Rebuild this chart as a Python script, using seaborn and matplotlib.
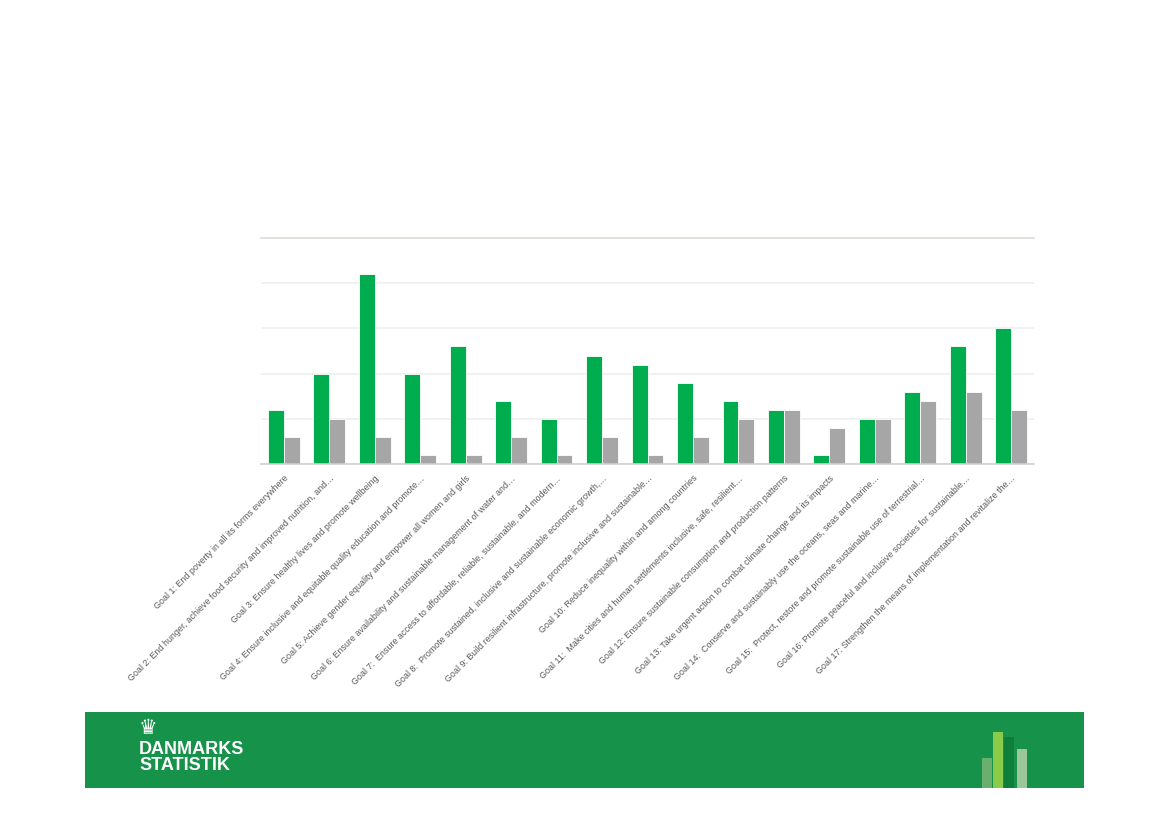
import matplotlib
matplotlib.use("Agg")
import matplotlib.pyplot as plt
import seaborn as sns
import pandas as pd
from matplotlib.patches import Rectangle

goals = [
    "Goal 1: End poverty in all its forms everywhere",
    "Goal 2: End hunger, achieve food security and improved nutrition, and\u2026",
    "Goal 3: Ensure healthy lives and promote wellbeing",
    "Goal 4: Ensure inclusive and equitable quality education and promote\u2026",
    "Goal 5: Achieve gender equality and empower all women and girls",
    "Goal 6: Ensure availability and sustainable management of water and\u2026",
    "Goal 7:  Ensure access to affordable, reliable, sustainable, and modern\u2026",
    "Goal 8:  Promote sustained, inclusive and sustainable economic growth,\u2026",
    "Goal 9: Build resilient infrastructure, promote inclusive and sustainable\u2026",
    "Goal 10: Reduce inequality within and among countries",
    "Goal 11:  Make cities and human settlements inclusive, safe, resilient\u2026",
    "Goal 12: Ensure sustainable consumption and production patterns",
    "Goal 13: Take urgent action to combat climate change and its impacts",
    "Goal 14:  Conserve and sustainably use the oceans, seas and marine\u2026",
    "Goal 15:  Protect, restore and promote sustainable use of terrestrial\u2026",
    "Goal 16: Promote peaceful and inclusive societies for sustainable\u2026",
    "Goal 17: Strengthen the means of implementation and revitalize the\u2026",
]
series_green = [6, 10, 21, 10, 13, 7, 5, 12, 11, 9, 7, 6, 1, 5, 8, 13, 15]
series_gray = [3, 5, 3, 1, 1, 3, 1, 3, 1, 3, 5, 6, 4, 5, 7, 8, 6]
series_names = ["Serie 1", "Serie 2"]
yticks = [0, 5, 10, 15, 20, 25]

df = pd.DataFrame({
    "goal": goals * 2,
    "value": series_green + series_gray,
    "series": [series_names[0]] * len(goals) + [series_names[1]] * len(goals),
})

sns.set_theme(style="white")
plt.rcParams["font.family"] = ["Liberation Sans", "DejaVu Sans"]

fig = plt.figure(figsize=(11.69, 8.26), dpi=100)
ax = fig.add_axes([261 / 1169, 1 - 464 / 826, (1034 - 261) / 1169, (464 - 238) / 826])

sns.barplot(data=df, x="goal", y="value", hue="series",
            palette=["#00AD4E", "#A6A6A6"], saturation=1, width=0.7, gap=0,
            edgecolor="white", linewidth=0.6, ax=ax, legend=False)

ax.set_ylim(0, 25)
ax.set_yticks(yticks)
ax.set_yticklabels([])
ax.tick_params(axis="y", length=0)
ax.yaxis.grid(True, color="#EFEFEF", linewidth=1.2)
ax.set_axisbelow(True)
for s in ["left", "right"]:
    ax.spines[s].set_visible(False)
ax.spines["top"].set_visible(True)
ax.spines["top"].set_color("#DDDDD6")
ax.spines["top"].set_linewidth(1.2)
ax.spines["bottom"].set_color("#D0D0CC")
ax.spines["bottom"].set_linewidth(1.2)
ax.set_xlabel("")
ax.set_ylabel("")
ax.tick_params(axis="x", length=0, pad=7)
ax.set_xticks(range(len(goals)))
ax.set_xticklabels(goals, rotation=45, ha="right", rotation_mode="anchor",
                   fontsize=6.4, color="#595959")
ax.set_xlim(-0.5, len(goals) - 0.5)

# Footer band
W, H = 1169, 826
fig.patches.append(Rectangle((85 / W, 1 - 788 / H), (1084 - 85) / W, (788 - 712) / H,
                             transform=fig.transFigure, facecolor="#17924A",
                             edgecolor="none", zorder=0))
fig.text(148 / W, 1 - 728 / H, "\u265B", color="white", fontsize=15,
         ha="center", va="center", family="DejaVu Sans")
fig.text(139 / W, 1 - 749 / H, "DANMARKS", color="white", fontsize=13,
         fontweight="bold", ha="left", va="center")
fig.text(139 / W, 1 - 766 / H, "STATISTIK", color="white", fontsize=13,
         fontweight="bold", ha="left", va="center")
for x0, x1, ytop, col in [(982, 992, 758, "#6BAF6E"), (993, 1003, 732, "#8CCB4A"),
                          (1004, 1014, 737, "#0E7F3A"), (1017, 1027, 749, "#9CC79A")]:
    fig.patches.append(Rectangle((x0 / W, 1 - 788 / H), (x1 - x0) / W, (788 - ytop) / H,
                                 transform=fig.transFigure, facecolor=col,
                                 edgecolor="none", zorder=1))

fig.savefig("out.png", dpi=100, facecolor="white")
